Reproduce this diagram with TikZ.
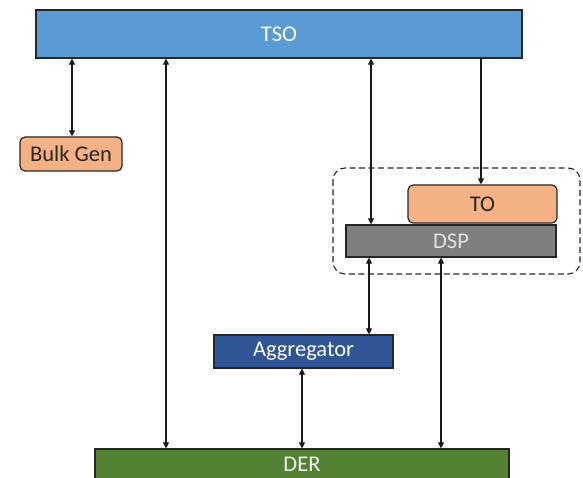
\documentclass[tikz,border=0pt]{standalone}
\usepackage{fontspec}
\setmainfont{Carlito}
\usetikzlibrary{arrows.meta}
\definecolor{tsoblue}{HTML}{5B9BD5}
\definecolor{orng}{HTML}{F4B183}
\definecolor{dspgray}{HTML}{7F7F7F}
\definecolor{aggblue}{HTML}{2F5597}
\definecolor{dergreen}{HTML}{548235}
\definecolor{darktext}{HTML}{262626}
\tikzset{
  box/.style={draw=black!85, line width=1.2pt, inner sep=0pt, font=\fontsize{22.5}{25}\selectfont},
  rbox/.style={box, rounded corners=5pt, fill=orng, text=darktext},
  conn/.style={line width=1.1pt, black!90},
  bi/.style={conn, {Triangle[length=6pt,width=6pt]}-{Triangle[length=6pt,width=6pt]}},
  uni/.style={conn, -{Triangle[length=6pt,width=6pt]}},
  grp/.style={draw=black!85, dash pattern=on 6pt off 3.5pt, line width=1.1pt, rounded corners=12pt}
}
\begin{document}
\begin{tikzpicture}[x=1pt,y=-1pt]
\useasboundingbox (0,0) rectangle (583,478);
\draw[grp] (333,168) rectangle (580,274);
\node[box, fill=tsoblue, text=white, minimum width=486pt, minimum height=48pt] (tso) at (279,34) {TSO};
\node[rbox, minimum width=102pt, minimum height=34pt] (bulk) at (71,154) {Bulk Gen};
\node[rbox, minimum width=149pt, minimum height=38pt] (to) at (482.5,204) {TO};
\node[box, fill=dspgray, text=black!12, minimum width=210pt, minimum height=32pt] (dsp) at (451,241) {DSP};
\node[box, fill=aggblue, text=white, minimum width=179pt, minimum height=33pt] (agg) at (303.5,351.5) {Aggregator};
\node[box, fill=dergreen, text=white!95!black, minimum width=414pt, minimum height=31pt] (der) at (302,464.5) {DER};
\coordinate (c1) at (72,0);
\coordinate (c2) at (166,0);
\coordinate (c3) at (371,0);
\coordinate (c4) at (481,0);
\coordinate (c5) at (369,0);
\coordinate (c6) at (302,0);
\coordinate (c7) at (441,0);
\draw[bi] (tso.south -| c1) -- (bulk.north -| c1);
\draw[bi] (tso.south -| c2) -- (der.north -| c2);
\draw[bi] (tso.south -| c3) -- (dsp.north -| c3);
\draw[uni] (tso.south -| c4) -- (to.north -| c4);
\draw[bi] (dsp.south -| c5) -- (agg.north -| c5);
\draw[bi] (agg.south -| c6) -- (der.north -| c6);
\draw[bi] (dsp.south -| c7) -- (der.north -| c7);
\end{tikzpicture}
\end{document}
